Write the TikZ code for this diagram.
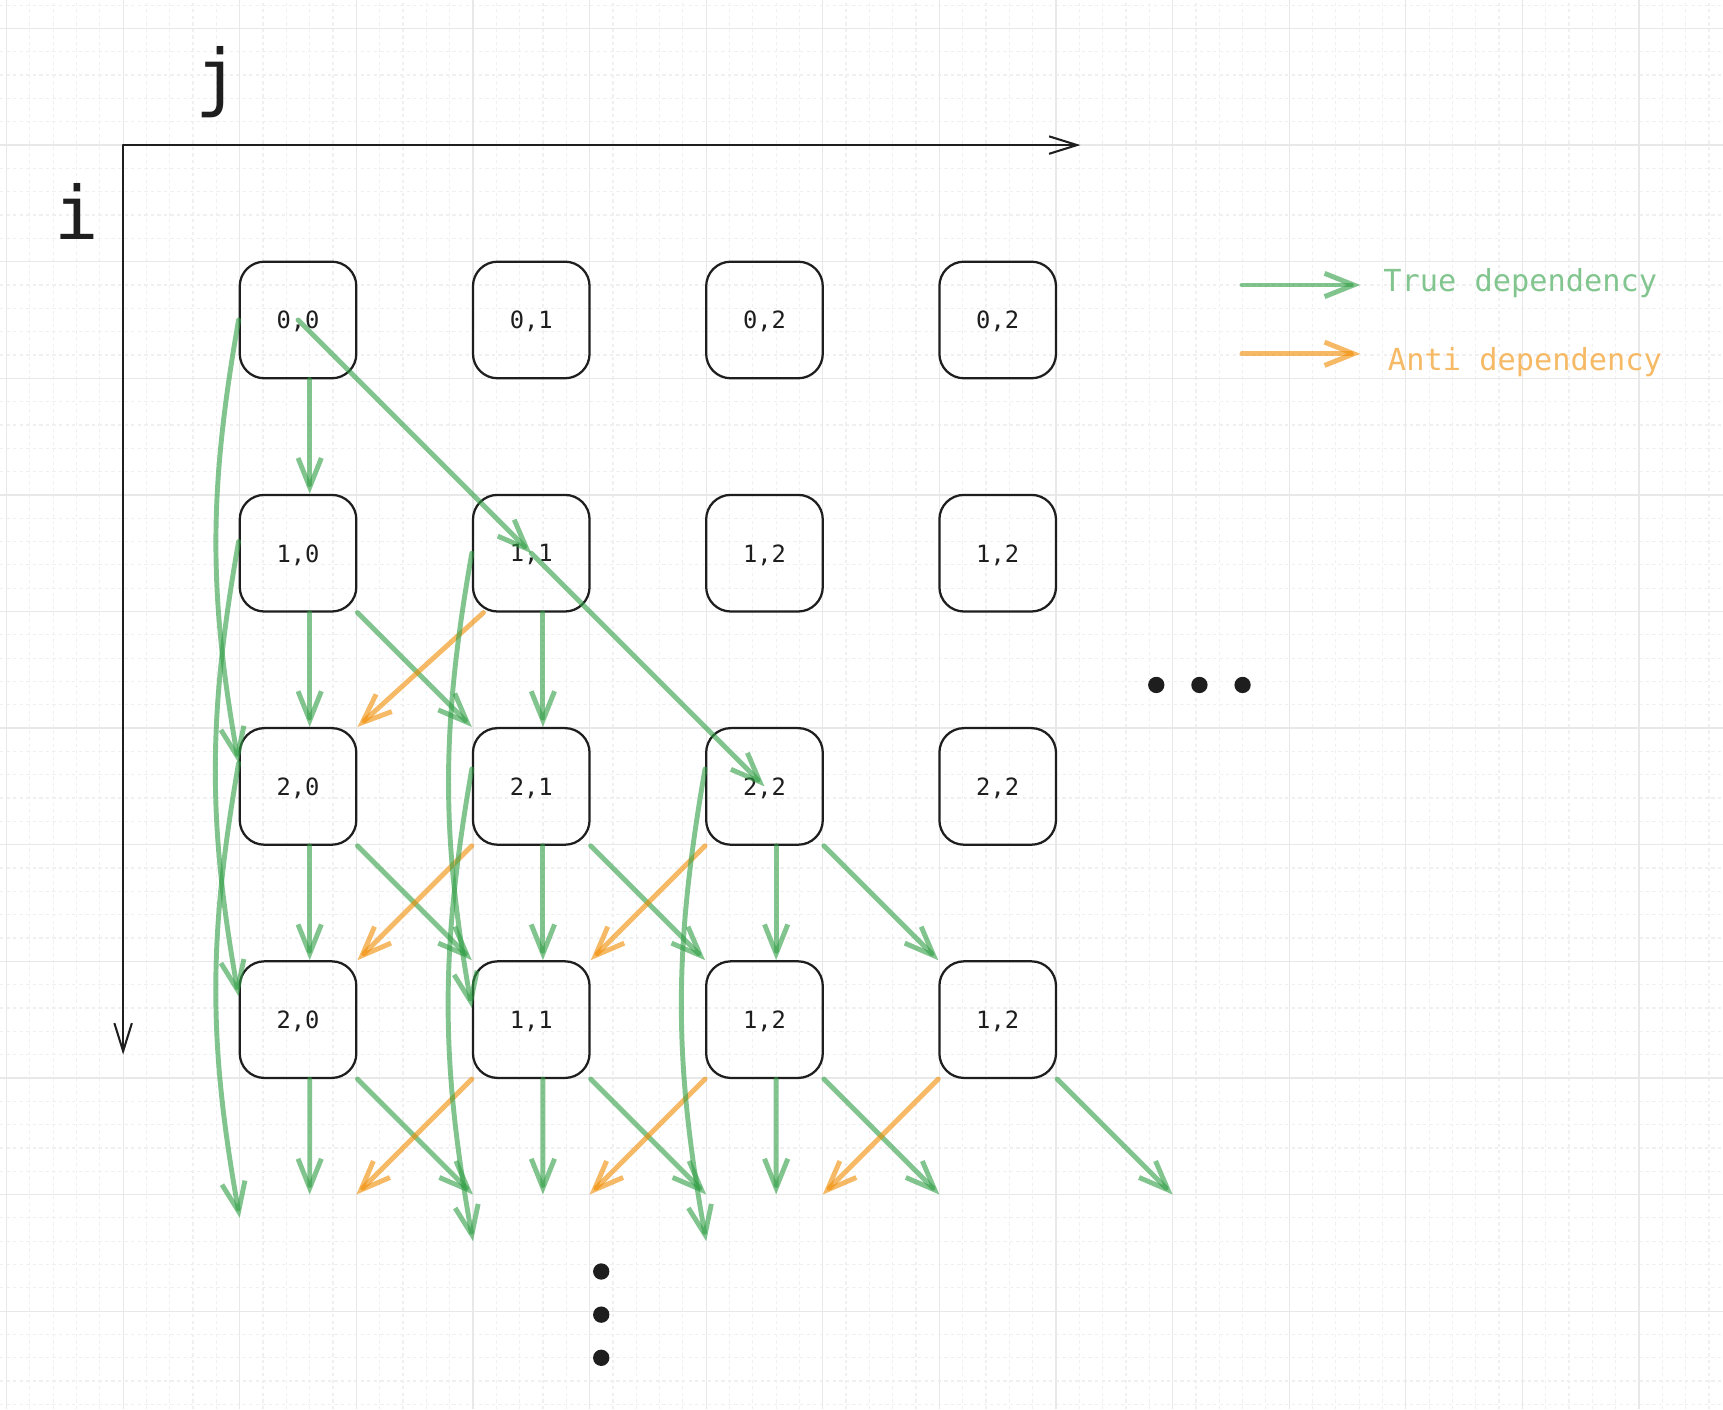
\documentclass[tikz,border=0pt]{standalone}
\usepackage{fontspec}
\setmainfont{DejaVu Sans Mono}
\usetikzlibrary{arrows.meta,calc,positioning}
\definecolor{depgreen}{RGB}{47,158,68}
\definecolor{deporange}{RGB}{240,140,0}
\definecolor{inkblack}{RGB}{30,30,30}
\tikzset{
    grid major/.style={draw=black!9, line width=0.3pt},
    grid minor/.style={draw=black!6, line width=0.3pt, dash pattern=on 0.8pt off 0.8pt},
    axis arrow/.style={-{Straight Barb[length=2.4mm,width=1.5mm]}, draw=inkblack, line width=0.5pt, line cap=round},
    axis label/.style={text=inkblack, inner sep=0pt, font=\fontsize{18}{20}\selectfont},
    iter box/.style={
        draw=inkblack,
        line width=0.55pt,
        rounded corners=6pt,
        minimum width=1cm,
        minimum height=1cm,
        inner sep=0pt,
        text depth=0pt,
        text=inkblack,
        font=\fontsize{5.8}{7}\selectfont
    },
    dep true/.style={-{Straight Barb[length=2.5mm,width=2mm]}, draw=depgreen, draw opacity=0.6, line width=1.2pt, line cap=round, line join=round},
    dep anti/.style={-{Straight Barb[length=2.5mm,width=2mm]}, draw=deporange, draw opacity=0.6, line width=1.2pt, line cap=round, line join=round},
    legend text/.style={anchor=west, inner sep=0pt, font=\fontsize{7.4}{9}\selectfont}
}
\begin{document}
\begin{tikzpicture}[x=1cm,y=1cm]
    \useasboundingbox[fill=white] (-1.056,-10.84) rectangle (13.72,1.244);
    \draw[grid minor] (-1.056,-10.84) grid[step=0.2] (13.72,1.244);
    \draw[grid major] (-1.056,-10.84) grid[step=1] (13.72,1.244);

    \coordinate (origin) at (0,0);
    \coordinate (jend) at (8.21,0);
    \coordinate (iend) at (0,-7.8);
    \draw[axis arrow] (origin) -- (jend);
    \draw[axis arrow] (origin) -- (iend);
    \node[axis label] (jlab) at (0.81,0.54) {j};
    \node[axis label] (ilab) at (-0.40,-0.57) {i};

    \node[iter box] (b00) at (1.5,-1.5) {0,0};
    \node[iter box] (b01) at (3.5,-1.5) {0,1};
    \node[iter box] (b02) at (5.5,-1.5) {0,2};
    \node[iter box] (b03) at (7.5,-1.5) {0,2};
    \node[iter box] (b10) at (1.5,-3.5) {1,0};
    \node[iter box] (b11) at (3.5,-3.5) {1,1};
    \node[iter box] (b12) at (5.5,-3.5) {1,2};
    \node[iter box] (b13) at (7.5,-3.5) {1,2};
    \node[iter box] (b20) at (1.5,-5.5) {2,0};
    \node[iter box] (b21) at (3.5,-5.5) {2,1};
    \node[iter box] (b22) at (5.5,-5.5) {2,2};
    \node[iter box] (b23) at (7.5,-5.5) {2,2};
    \node[iter box] (b30) at (1.5,-7.5) {2,0};
    \node[iter box] (b31) at (3.5,-7.5) {1,1};
    \node[iter box] (b32) at (5.5,-7.5) {1,2};
    \node[iter box] (b33) at (7.5,-7.5) {1,2};

    \foreach \j in {0,1,2,3} {
        \coordinate (vd\j) at (2*\j+1.6,-9);
        \coordinate (gd\j) at (2*\j+3,-9);
        \coordinate (od\j) at (2*\j,-9);
    }
    \coordinate (cd0) at (1,-9.2);
    \coordinate (cd1) at (3,-9.4);
    \coordinate (cd2) at (5,-9.4);

    \foreach \a/\b in {b00/b10,b10/b20,b20/b30,b11/b21,b21/b31,b22/b32}
        \draw[dep true] ([xshift=1mm]\a.south) -- ([xshift=1mm]\b.north);
    \foreach \j in {0,1,2}
        \draw[dep true] ([xshift=1mm]b3\j.south) -- (vd\j);

    \foreach \a/\b in {b10/b21,b20/b31,b21/b32,b22/b33}
        \draw[dep true] (\a.south east) -- (\b.north west);
    \foreach \j in {0,1,2,3}
        \draw[dep true] (b3\j.south east) -- (gd\j);

    \draw[dep anti] ([xshift=1mm]b11.south west) -- (b20.north east);
    \foreach \a/\b in {b21/b30,b22/b31}
        \draw[dep anti] (\a.south west) -- (\b.north east);
    \foreach \j in {1,2,3}
        \draw[dep anti] (b3\j.south west) -- (od\j);

    \draw[dep true] (b00.center) -- (b11.center);
    \draw[dep true] (b11.center) -- (b22.center);

    \draw[dep true] (b00.west) to[bend right=10] ([yshift=2mm]b20.west);
    \draw[dep true] ([yshift=1mm]b10.west) to[bend right=10] ([yshift=2mm]b30.west);
    \draw[dep true] ([yshift=2mm]b20.west) to[bend right=10] (cd0);
    \draw[dep true] (b11.west) to[bend right=10] ([yshift=1mm]b31.west);
    \draw[dep true] ([yshift=1.5mm]b21.west) to[bend right=10] (cd1);
    \draw[dep true] ([yshift=1.5mm]b22.west) to[bend right=10] (cd2);

    \foreach \x in {8.86,9.23,9.60}
        \fill[inkblack] (\x,-4.63) circle (0.07);
    \foreach \y in {-9.66,-10.03,-10.40}
        \fill[inkblack] (4.10,\y) circle (0.07);

    \coordinate (ltA) at (9.595,-1.20);
    \coordinate (ltB) at (10.61,-1.20);
    \coordinate (laA) at (9.595,-1.79);
    \coordinate (laB) at (10.61,-1.79);
    \draw[dep true] (ltA) -- (ltB);
    \node[legend text, text=depgreen!60] (ltrue) at (10.80,-1.18) {True dependency};
    \draw[dep anti] (laA) -- (laB);
    \node[legend text, text=deporange!60] (lanti) at (10.84,-1.86) {Anti dependency};
\end{tikzpicture}
\end{document}
